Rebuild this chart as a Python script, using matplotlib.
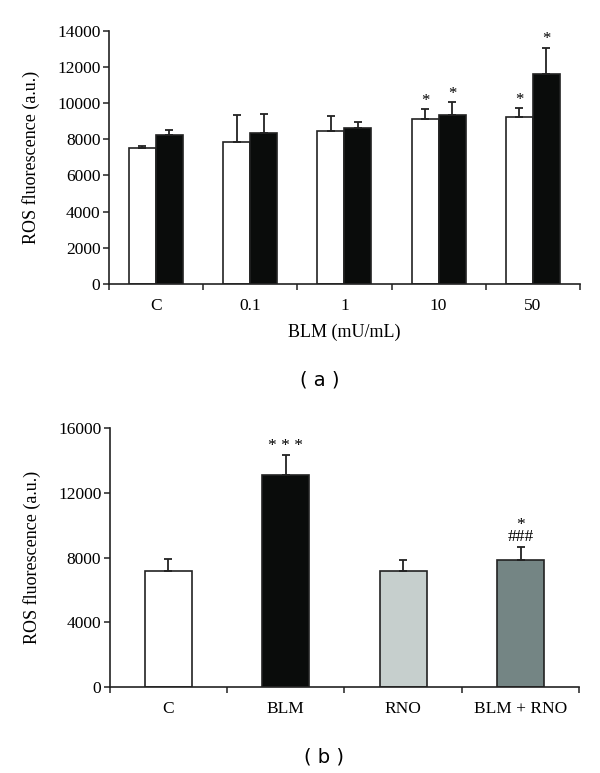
import matplotlib
matplotlib.use("Agg")
import matplotlib.pyplot as plt
import numpy as np

plt.rcParams["font.family"] = ["Liberation Serif", "DejaVu Serif"]

# panel (a)
doses = ["C", "0.1", "1", "10", "50"]
white_mean = [7500, 7866, 8474, 9121, 9248]
white_err = [145, 1476, 813, 553, 463]
black_mean = [8236, 8364, 8640, 9359, 11592]
black_err = [260, 1050, 332, 685, 1471]
white_sig = ["", "", "", "*", "*"]
black_sig = ["", "", "", "*", "*"]

# panel (b)
groups = ["C", "BLM", "RNO", "BLM + RNO"]
b_mean = [7164, 13140, 7175, 7864]
b_err = [762, 1180, 700, 767]
b_colors = ["white", "#0a0c0b", "#c6cfcd", "#748584"]
b_sig = ["", "* * *", "", "*\n###"]

fig = plt.figure(figsize=(6, 7.73), dpi=100)
edge = "#222222"

ax1 = fig.add_axes([0.1812, 0.6326, 0.7855, 0.3277])
x = np.arange(len(doses)) + 0.5
w = 0.286
ax1.bar(x - w / 2, white_mean, w, color="white", edgecolor=edge, linewidth=1.2)
ax1.bar(x + w / 2, black_mean, w, color="#0a0c0b", edgecolor=edge, linewidth=1.2)
ax1.errorbar(x - w / 2, white_mean, yerr=[np.zeros(5), white_err], fmt="none",
             ecolor=edge, elinewidth=1.3, capsize=3, capthick=1.3)
ax1.errorbar(x + w / 2, black_mean, yerr=[np.zeros(5), black_err], fmt="none",
             ecolor=edge, elinewidth=1.3, capsize=3, capthick=1.3)
for i in range(len(doses)):
    if white_sig[i]:
        ax1.text(x[i] - w / 2, white_mean[i] + white_err[i] + 20, white_sig[i],
                 ha="center", va="bottom", fontsize=12)
    if black_sig[i]:
        ax1.text(x[i] + w / 2, black_mean[i] + black_err[i] + 20, black_sig[i],
                 ha="center", va="bottom", fontsize=12)
ax1.set_xlim(0, 5)
ax1.set_ylim(0, 14000)
ax1.set_yticks(range(0, 14001, 2000))
ax1.set_xticks(x)
ax1.set_xticklabels(doses)
ax1.set_xticks(np.arange(0, 6), minor=True)
ax1.set_xlabel("BLM (mU/mL)", fontsize=13, labelpad=7)
ax1.set_ylabel("ROS fluorescence (a.u.)", fontsize=13, labelpad=12)
fig.text(0.533, 0.508, "( a )", ha="center", va="center", fontsize=14,
         family="DejaVu Sans")

ax2 = fig.add_axes([0.1828, 0.1116, 0.7827, 0.3343])
xb = np.arange(len(groups)) + 0.5
wb = 0.40
ax2.bar(xb, b_mean, wb, color=b_colors, edgecolor=edge, linewidth=1.2)
ax2.errorbar(xb, b_mean, yerr=[np.zeros(4), b_err], fmt="none",
             ecolor=edge, elinewidth=1.3, capsize=3, capthick=1.3)
for i in range(len(groups)):
    if b_sig[i]:
        ax2.text(xb[i], b_mean[i] + b_err[i] + 120, b_sig[i], ha="center",
                 va="bottom", fontsize=12.5, linespacing=0.7)
ax2.set_xlim(0, 4)
ax2.set_ylim(0, 16000)
ax2.set_yticks(range(0, 16001, 4000))
ax2.set_xticks(xb)
ax2.set_xticklabels(groups)
ax2.set_xticks(np.arange(0, 5), minor=True)
ax2.set_ylabel("ROS fluorescence (a.u.)", fontsize=13, labelpad=12)
fig.text(0.54, 0.021, "( b )", ha="center", va="center", fontsize=14,
         family="DejaVu Sans")

for ax in (ax1, ax2):
    for s in ("top", "right"):
        ax.spines[s].set_visible(False)
    for s in ("left", "bottom"):
        ax.spines[s].set_linewidth(1.2)
        ax.spines[s].set_color(edge)
    ax.tick_params(axis="y", direction="out", length=4, width=1.1,
                   labelsize=12.5, color=edge, pad=2)
    ax.tick_params(axis="x", which="major", length=0, labelsize=12.5, pad=10)
    ax.tick_params(axis="x", which="minor", direction="out", length=4,
                   width=1.1, color=edge)

fig.savefig("out.png", dpi=100)
